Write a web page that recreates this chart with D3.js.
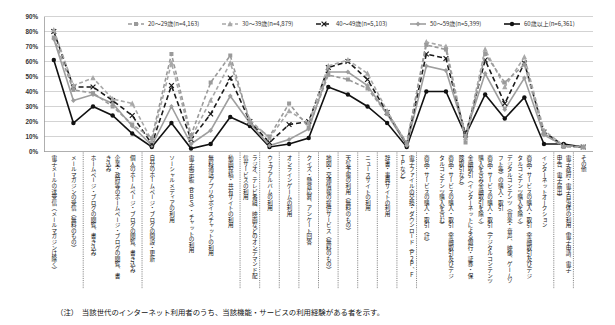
<!DOCTYPE html>
<html><head><meta charset="utf-8">
<script src="https://cdn.jsdelivr.net/npm/d3@7"></script>
<style>
body{margin:0;background:#fff;}
#wrap{position:relative;width:615px;height:325px;}
svg{display:block;position:absolute;left:0;top:0;}
.vlab{position:absolute;writing-mode:vertical-rl;white-space:pre;font-family:"Noto Sans CJK JP",sans-serif;font-size:5.6px;line-height:9px;color:#111;}
</style></head>
<body>
<div id="wrap"><svg id="chart" width="615" height="325"></svg></div>
<script>
const categories = [
 "電子メールの送受信（メールマガジンは除く）",
 "メールマガジンの受信（無料のもの）",
 "ホームページ・ブログの閲覧、書き込み",
 "企業・政府等のホームページ・ブログの閲覧、書\nき込み",
 "個人のホームページ・ブログの閲覧、書き込み",
 "自分のホームページ・ブログの開設・更新",
 "ソーシャルメディアの利用",
 "電子掲示板（ＢＢＳ）・チャットの利用",
 "無料通話アプリやボイスチャットの利用",
 "動画投稿・共有サイトの利用",
 "ラジオ、テレビ番組、映画などのオンデマンド配\n信サービスの利用",
 "ウェブアルバムの利用",
 "オンラインゲームの利用",
 "クイズ・懸賞応募、アンケート回答",
 "地図・交通情報の提供サービス（無料のもの）",
 "天気予報の利用（無料のもの）",
 "ニュースサイトの利用",
 "辞書・事典サイトの利用",
 "電子ファイルの交換・ダウンロード（Ｐ２Ｐ、Ｆ\nＴＰなど）",
 "商品・サービスの購入・取引（計）",
 "商品・サービスの購入・取引（金融取引及びデジ\nタルコンテンツ購入を含む）",
 "金融取引（インターネットによる銀行・証券・保\n険取引など）",
 "商品・サービスの購入・取引（デジタルコンテンツ\n購入を含み金融取引を除く）",
 "デジタルコンテンツ（音楽・音声、映像、ゲームソ\nフト等）の購入・取引",
 "商品・サービスの購入・取引（金融取引及びデジ\nタルコンテンツ購入を除く）",
 "インターネットオークション",
 "電子政府・電子自治体の利用（電子申請、電子\n申告、電子届出）",
 "その他"
];
// indices after which a dotted separator is drawn
const groupBreaks = [1, 4, 9, 10, 11, 12, 13, 14, 15, 16, 17, 18, 25, 26];

const seriesNames = ["20～29歳(n=4,163)", "30～39歳(n=4,879)", "40～49歳(n=5,103)", "50～59歳(n=5,399)", "60歳以上(n=6,361)"];
const age20s = [76,41,39,30,18,9,65,11,46,64,19,10,32,16,51,48,42,25,6,71,68,6,65,46,58,12,3,3];
const age30s = [81,44,49,35,32,7,59,9,34,59,21,9,27,19,57,61,52,27,5,73,70,9,68,43,63,14,4,3];
const age40s = [80,43,43,34,24,5,44,8,25,49,20,6,18,20,56,60,48,26,5,65,62,11,61,32,59,13,4,3];
const age50s = [75,34,38,32,17,4,30,5,14,37,19,4,8,15,53,53,44,25,4,57,54,12,52,28,49,11,4,3];
const age60s = [61,19,30,24,12,3,19,2,5,23,17,3,5,9,43,38,30,19,3,40,40,11,38,22,36,5,5,3];
const yTicks = [0,10,20,30,40,50,60,70,80,90];
const footnote = "（注）　当該世代のインターネット利用者のうち、当該機能・サービスの利用経験がある者を示す。";

const seriesValues = [age20s, age30s, age40s, age50s, age60s];
const styles = [
  {color:"#9a9a9a", dash:"4,2.5", marker:"square"},
  {color:"#a8a8a8", dash:"4,2.5", marker:"triangle"},
  {color:"#1a1a1a", dash:"5,3", marker:"cross"},
  {color:"#9e9e9e", dash:null, marker:"diamond"},
  {color:"#111111", dash:null, marker:"circle"}
];

const svg = d3.select("#chart");
const L = 44, R = 593, T = 16.5, B = 151.5;
const x = d3.scaleBand().domain(d3.range(categories.length)).range([L, R]);
const y = d3.scaleLinear().domain([0, 90]).range([B, T]);

// gridlines
svg.append("g").selectAll("line").data(yTicks).join("line")
  .attr("x1", L).attr("x2", R)
  .attr("y1", d => y(d)).attr("y2", d => y(d))
  .attr("stroke", d => d === 0 ? "#9a9a9a" : "#c8c8c8").attr("stroke-width", 0.8);

// y axis
const yAxis = d3.axisLeft(y).tickValues(yTicks).tickFormat(d => d + "%").tickSize(0).tickPadding(6);
const ga = svg.append("g").attr("transform", `translate(${L},0)`).call(yAxis);
ga.select(".domain").attr("stroke", "#9a9a9a").attr("stroke-width", 0.8);
ga.selectAll("text").attr("font-family", "Liberation Sans, Arial, sans-serif")
  .attr("font-size", 6.3).attr("font-weight", "bold").attr("fill", "#333");

// separators
svg.append("g").selectAll("line").data(groupBreaks).join("line")
  .attr("x1", d => x(d) + x.bandwidth()).attr("x2", d => x(d) + x.bandwidth())
  .attr("y1", B + 1).attr("y2", 289)
  .attr("stroke", "#555").attr("stroke-width", 0.8).attr("stroke-dasharray", "1,1.2");

// category labels (vertical, HTML)
const wrap = d3.select("#wrap");
categories.forEach((c, i) => {
  const n = c.split("\n").length;
  const cx = x(i) + x.bandwidth() / 2;
  wrap.append("div").attr("class", "vlab")
    .style("left", (cx - n * 9 / 2) + "px")
    .style("top", "155px")
    .text(c);
});

// markers
function drawMarker(g, type, color, size) {
  if (type === "square") {
    g.append("rect").attr("x", -size/2).attr("y", -size/2).attr("width", size).attr("height", size).attr("fill", color);
  } else if (type === "triangle") {
    const s = size * 1.2;
    g.append("path").attr("d", `M0,${-s*0.6}L${s*0.55},${s*0.45}L${-s*0.55},${s*0.45}Z`).attr("fill", color);
  } else if (type === "cross") {
    const s = size * 0.6;
    g.append("path").attr("d", `M${-s},${-s}L${s},${s}M${-s},${s}L${s},${-s}`).attr("stroke", color).attr("stroke-width", 1.2);
  } else if (type === "diamond") {
    const s = size * 0.6;
    g.append("path").attr("d", `M0,${-s}L${s},0L0,${s}L${-s},0Z`).attr("fill", color);
  } else {
    g.append("circle").attr("r", size * 0.55).attr("fill", color);
  }
}

const line = d3.line().x((d, i) => x(i) + x.bandwidth() / 2).y(d => y(d));
const order = [4, 3, 2, 1, 0];
order.forEach(si => {
  const st = styles[si];
  const g = svg.append("g");
  g.append("path").datum(seriesValues[si]).attr("d", line)
    .attr("fill", "none").attr("stroke", st.color).attr("stroke-width", 1.6)
    .attr("stroke-dasharray", st.dash);
  seriesValues[si].forEach((v, i) => {
    const mg = g.append("g").attr("transform", `translate(${x(i) + x.bandwidth()/2},${y(v)})`);
    drawMarker(mg, st.marker, st.color, 4);
  });
});

// legend
const leg = svg.append("g");
seriesNames.forEach((n, i) => {
  const st = styles[i];
  const lx = 128 + i * 94, ly = 24;
  leg.append("line").attr("x1", lx).attr("x2", lx + 16).attr("y1", ly).attr("y2", ly)
    .attr("stroke", st.color).attr("stroke-width", 1.6).attr("stroke-dasharray", st.dash);
  const mg = leg.append("g").attr("transform", `translate(${lx + 8},${ly})`);
  drawMarker(mg, st.marker, st.color, 4);
  leg.append("text").attr("x", lx + 20).attr("y", ly + 2.2)
    .attr("font-family", "Noto Sans CJK JP, sans-serif").attr("font-size", 6)
    .attr("fill", "#333").text(n);
});

// footnote
svg.append("text").attr("x", 56).attr("y", 315)
  .attr("font-family", "Noto Sans CJK JP, sans-serif").attr("font-size", 7.4)
  .attr("fill", "#111").text(footnote);
</script>
</body></html>
